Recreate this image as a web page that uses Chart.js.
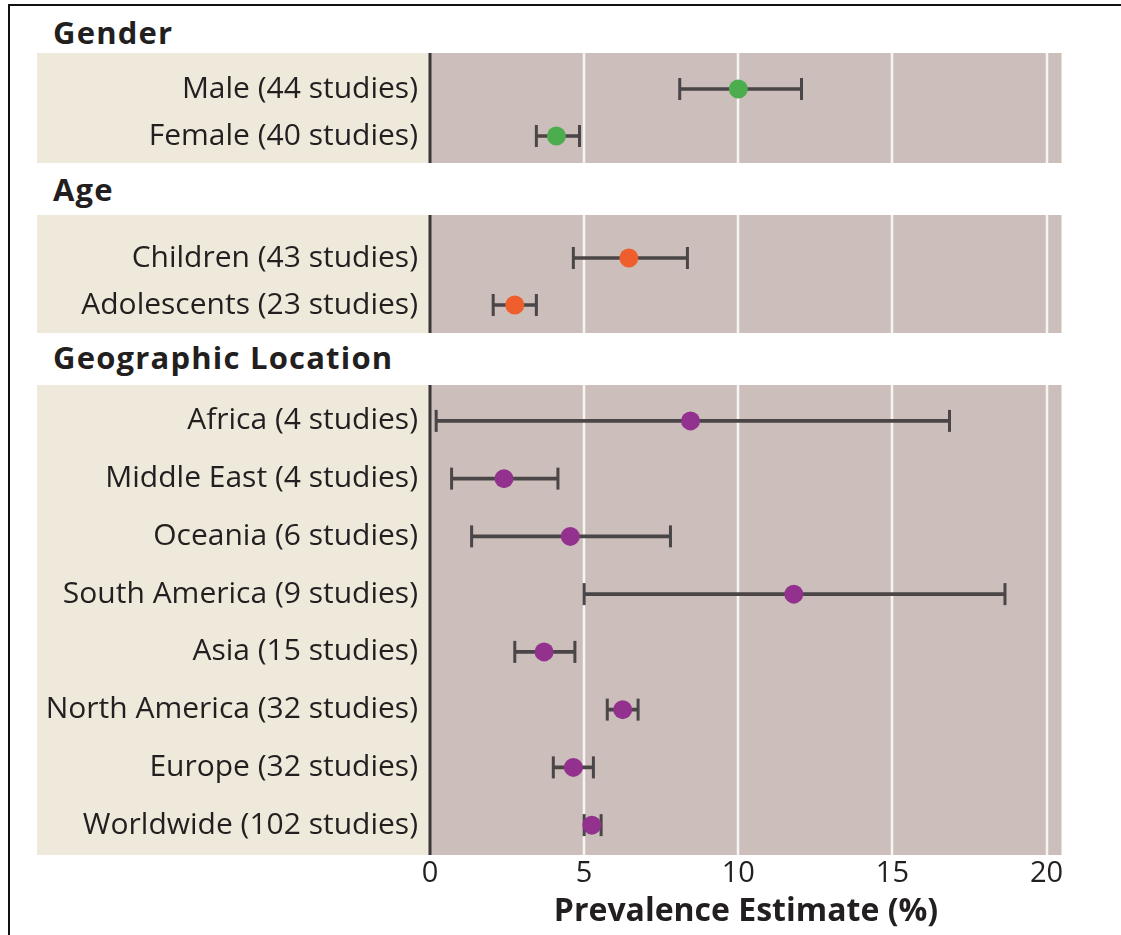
<!DOCTYPE html>
<html>
<head>
<meta charset="utf-8">
<script src="https://cdn.jsdelivr.net/npm/chart.js@4"></script>
<style>
  html, body { margin: 0; padding: 0; background: #fff; }
  body { width: 1121px; height: 935px; position: relative; overflow: hidden; font-family: "Open Sans", sans-serif; }
  .frame { position: absolute; left: 8px; top: 4px; right: 0; bottom: 0; border-top: 2px solid #111; border-left: 2px solid #111; }
  .head { position: absolute; left: 53px; font-weight: bold; font-size: 31px; letter-spacing: 1.2px; color: #231f20; line-height: 1; }
  canvas { position: absolute; left: 37px; }
</style>
</head>
<body>
<div class="frame"></div>
<div class="head" style="top:17px">Gender</div>
<div class="head" style="top:174px">Age</div>
<div class="head" style="top:342px">Geographic Location</div>
<canvas id="gender" width="1084" height="110" style="top:53px"></canvas>
<canvas id="age" width="1084" height="118" style="top:215px"></canvas>
<canvas id="geo" width="1084" height="550" style="top:385px"></canvas>
<script>
// prevalence estimates (%) with lower / upper confidence limits
const genderLabels = ['Male (44 studies)', 'Female (40 studies)'];
const genderEst = [10.0, 4.1];
const genderLo = [8.1, 3.45];
const genderHi = [12.05, 4.85];

const ageLabels = ['Children (43 studies)', 'Adolescents (23 studies)'];
const ageEst = [6.45, 2.75];
const ageLo = [4.65, 2.05];
const ageHi = [8.35, 3.45];

const geoLabels = ['Africa (4 studies)', 'Middle East (4 studies)', 'Oceania (6 studies)',
    'South America (9 studies)', 'Asia (15 studies)', 'North America (32 studies)',
    'Europe (32 studies)', 'Worldwide (102 studies)'];
const geoEst = [8.45, 2.4, 4.55, 11.8, 3.7, 6.25, 4.65, 5.25];
const geoLo = [0.2, 0.7, 1.35, 5.0, 2.75, 5.75, 4.0, 5.0];
const geoHi = [16.85, 4.15, 7.8, 18.65, 4.7, 6.75, 5.3, 5.55];

const xTicks = [0, 5, 10, 15, 20];

const TAN = '#eee9da';
const MAUVE = '#cbbebb';
const WHISKER = '#4a4546';
const TEXT = '#231f20';
const FONT = 'Open Sans';

// panel backgrounds, white grid lines and the dark zero line over the full panel height
const panelPlugin = {
    id: 'panel',
    beforeDraw(chart, args, opts) {
        const ctx = chart.ctx;
        const area = chart.chartArea;
        const x = chart.scales.x;
        const h = opts.height || chart.height;
        ctx.save();
        ctx.fillStyle = TAN;
        ctx.fillRect(0, 0, area.left, h);
        ctx.fillStyle = MAUVE;
        ctx.fillRect(area.left, 0, area.right - area.left, h);
        // faint light edge on the right of the panel
        ctx.fillStyle = '#e6dfd9';
        ctx.fillRect(area.right - 1, 0, 1, h);
        ctx.strokeStyle = '#f7f5f3';
        ctx.lineWidth = 2.5;
        xTicks.forEach(function (t) {
            if (t === 0) return;
            const px = Math.round(x.getPixelForValue(t));
            ctx.beginPath();
            ctx.moveTo(px, 0);
            ctx.lineTo(px, h);
            ctx.stroke();
        });
        ctx.strokeStyle = '#3b3738';
        ctx.lineWidth = 3;
        const zx = x.getPixelForValue(0);
        ctx.beginPath();
        ctx.moveTo(zx, 0);
        ctx.lineTo(zx, h);
        ctx.stroke();
        ctx.restore();
    }
};

function makeChart(id, labels, est, lo, hi, color, pad, withAxis, panelHeight) {
    const cap = function (vals) {
        return {
            type: 'line',
            showLine: false,
            data: vals.map((v, i) => ({ x: v, y: labels[i] })),
            pointStyle: 'line',
            pointRotation: 90,
            pointRadius: 11,
            pointBorderWidth: 3,
            borderColor: WHISKER,
            order: 2
        };
    };
    return new Chart(document.getElementById(id), {
        type: 'bar',
        data: {
            labels: labels,
            datasets: [
                {
                    data: lo.map((v, i) => [v, hi[i]]),
                    backgroundColor: WHISKER,
                    barThickness: 3,
                    order: 3
                },
                cap(lo),
                cap(hi),
                {
                    type: 'line',
                    showLine: false,
                    data: est.map((v, i) => ({ x: v, y: labels[i] })),
                    pointRadius: 9.5,
                    pointBackgroundColor: color,
                    pointBorderWidth: 0,
                    order: 1
                }
            ]
        },
        options: {
            indexAxis: 'y',
            responsive: false,
            animation: false,
            layout: {
                autoPadding: false,
                padding: { top: pad[0], bottom: pad[1], left: 0, right: 59 }
            },
            plugins: {
                legend: { display: false },
                tooltip: { enabled: false },
                panel: { height: panelHeight }
            },
            scales: {
                x: {
                    type: 'linear',
                    min: 0,
                    max: 20.5,
                    display: withAxis,
                    grid: { display: false, drawTicks: false },
                    border: { display: false },
                    ticks: {
                        stepSize: 5,
                        includeBounds: false,
                        padding: 2,
                        color: TEXT,
                        font: { family: FONT, size: 29 }
                    },
                    title: {
                        display: withAxis,
                        text: 'Prevalence Estimate (%)',
                        color: TEXT,
                        padding: { top: 0, bottom: 0 },
                        font: { family: FONT, size: 32, weight: 'bold' }
                    },
                    afterFit: function (scale) { if (withAxis) scale.height = 77; }
                },
                y: {
                    type: 'category',
                    labels: labels,
                    offset: true,
                    grid: { display: false, drawTicks: false },
                    border: { display: false },
                    ticks: {
                        padding: 12,
                        color: TEXT,
                        font: { family: FONT, size: 30 }
                    },
                    afterFit: function (scale) {
                        // fixed label column; rows are placed by the layout padding only
                        scale.width = 393;
                        scale.paddingTop = 0;
                        scale.paddingBottom = 0;
                    }
                }
            }
        },
        plugins: [panelPlugin]
    });
}

makeChart('gender', genderLabels, genderEst, genderLo, genderHi, '#4cad4e', [12.5, 3.5], false);
makeChart('age', ageLabels, ageEst, ageLo, ageHi, '#ee5f2d', [19.5, 4.5], false);
makeChart('geo', geoLabels, geoEst, geoLo, geoHi, '#93318f', [7, 4], true, 470);
</script>
</body>
</html>
